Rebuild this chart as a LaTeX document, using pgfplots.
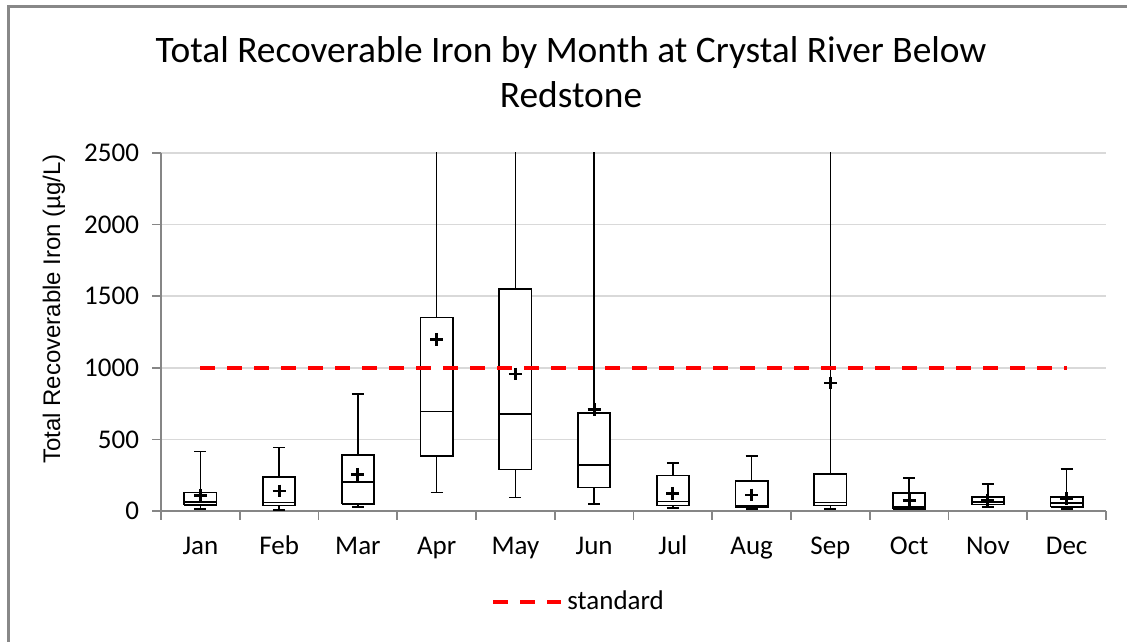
\documentclass[border=0pt]{standalone}
\usepackage{pgfplots}
\pgfplotsset{compat=1.18}
\usepackage{fontspec}
\setmainfont{Carlito}
\newfontfamily\arialfont{Liberation Sans}
\definecolor{axgray}{HTML}{868686}
\definecolor{gridgray}{HTML}{D9D9D9}
\definecolor{bordergray}{HTML}{888888}
\begin{document}
\begin{tikzpicture}
\path[use as bounding box] (0pt,0pt) rectangle (563.5pt,320.5pt);
\draw[bordergray, line width=1.5pt] (4pt,-2pt) -- (4pt,317pt) -- (566pt,317pt);
\begin{axis}[
  at={(80.5pt,65pt)}, anchor=south west,
  scale only axis, width=472.5pt, height=179pt,
  xmin=0.5, xmax=12.5, ymin=0, ymax=2500,
  axis lines*=left,
  axis line style={axgray, line width=0.8pt},
  xtick={1,...,12},
  xticklabels={Jan,Feb,Mar,Apr,May,Jun,Jul,Aug,Sep,Oct,Nov,Dec},
  major x tick style={draw=none},
  minor xtick={0.5,1.5,...,12.5},
  minor x tick style={axgray, line width=0.8pt},
  minor tick length=4.5pt,
  ytick={0,500,...,2500},
  major y tick style={axgray, line width=0.8pt},
  major tick length=4.5pt,
  tick align=outside,
  ymajorgrids, grid style={gridgray, line width=0.8pt},
  tick label style={font=\fontsize{13.5}{16}\selectfont, black},
  /pgf/number format/assume math mode=true,
  /pgf/number format/1000 sep={},
  xticklabel style={yshift=-3.5pt, text height=10pt, text depth=3pt},
  yticklabel style={xshift=-3pt},
  unbounded coords=jump,
  legend style={at={(0.443,-0.254)}, anchor=center, draw=none, fill=none,
    font=\fontsize{13.5}{16}\selectfont},
  legend image code/.code={\draw[#1] (0pt,0pt) -- (34pt,0pt);},
]
% whiskers (lower and upper, with caps)
\addplot[black, line width=0.8pt, forget plot] coordinates {
 (1,12) (1,40) (nan,nan) (0.925,12) (1.075,12) (nan,nan) (1,128) (1,415) (nan,nan) (0.925,415) (1.075,415) (nan,nan)
 (2,5) (2,37) (nan,nan) (1.925,5) (2.075,5) (nan,nan) (2,238) (2,443) (nan,nan) (1.925,443) (2.075,443) (nan,nan)
 (3,28) (3,47) (nan,nan) (2.925,28) (3.075,28) (nan,nan) (3,390) (3,819) (nan,nan) (2.925,819) (3.075,819) (nan,nan)
 (4,128) (4,383) (nan,nan) (3.925,128) (4.075,128) (nan,nan) (4,1351) (4,2600) (nan,nan)
 (5,93) (5,289) (nan,nan) (4.925,93) (5.075,93) (nan,nan) (5,1549) (5,2600) (nan,nan)
 (6,49) (6,163) (nan,nan) (5.925,49) (6.075,49) (nan,nan) (6,686) (6,2600) (nan,nan)
 (7,21) (7,37) (nan,nan) (6.925,21) (7.075,21) (nan,nan) (7,247) (7,336) (nan,nan) (6.925,336) (7.075,336) (nan,nan)
 (8,12) (8,28) (nan,nan) (7.925,12) (8.075,12) (nan,nan) (8,210) (8,383) (nan,nan) (7.925,383) (8.075,383) (nan,nan)
 (9,12) (9,37) (nan,nan) (8.925,12) (9.075,12) (nan,nan) (9,257) (9,2600) (nan,nan)
 (10,10) (10,16) (nan,nan) (9.925,10) (10.075,10) (nan,nan) (10,126) (10,231) (nan,nan) (9.925,231) (10.075,231) (nan,nan)
 (11,28) (11,44) (nan,nan) (10.925,28) (11.075,28) (nan,nan) (11,98) (11,189) (nan,nan) (10.925,189) (11.075,189) (nan,nan)
 (12,16) (12,28) (nan,nan) (11.925,16) (12.075,16) (nan,nan) (12,98) (12,294) (nan,nan) (11.925,294) (12.075,294)
};
% boxes: lower quartile to upper quartile
\addplot[black, line width=0.8pt, fill=white, forget plot] coordinates {(0.795,40) (1.205,40) (1.205,128) (0.795,128) (0.795,40)};
\addplot[black, line width=0.8pt, fill=white, forget plot] coordinates {(1.795,37) (2.205,37) (2.205,238) (1.795,238) (1.795,37)};
\addplot[black, line width=0.8pt, fill=white, forget plot] coordinates {(2.795,47) (3.205,47) (3.205,390) (2.795,390) (2.795,47)};
\addplot[black, line width=0.8pt, fill=white, forget plot] coordinates {(3.795,383) (4.205,383) (4.205,1351) (3.795,1351) (3.795,383)};
\addplot[black, line width=0.8pt, fill=white, forget plot] coordinates {(4.795,289) (5.205,289) (5.205,1549) (4.795,1549) (4.795,289)};
\addplot[black, line width=0.8pt, fill=white, forget plot] coordinates {(5.795,163) (6.205,163) (6.205,686) (5.795,686) (5.795,163)};
\addplot[black, line width=0.8pt, fill=white, forget plot] coordinates {(6.795,37) (7.205,37) (7.205,247) (6.795,247) (6.795,37)};
\addplot[black, line width=0.8pt, fill=white, forget plot] coordinates {(7.795,28) (8.205,28) (8.205,210) (7.795,210) (7.795,28)};
\addplot[black, line width=0.8pt, fill=white, forget plot] coordinates {(8.795,37) (9.205,37) (9.205,257) (8.795,257) (8.795,37)};
\addplot[black, line width=0.8pt, fill=white, forget plot] coordinates {(9.795,16) (10.205,16) (10.205,126) (9.795,126) (9.795,16)};
\addplot[black, line width=0.8pt, fill=white, forget plot] coordinates {(10.795,44) (11.205,44) (11.205,98) (10.795,98) (10.795,44)};
\addplot[black, line width=0.8pt, fill=white, forget plot] coordinates {(11.795,28) (12.205,28) (12.205,98) (11.795,98) (11.795,28)};
% medians
\addplot[black, line width=0.8pt, forget plot] coordinates {
 (0.795,61) (1.205,61) (nan,nan) (1.795,58) (2.205,58) (nan,nan) (2.795,201) (3.205,201) (nan,nan)
 (3.795,695) (4.205,695) (nan,nan) (4.795,677) (5.205,677) (nan,nan) (5.795,322) (6.205,322) (nan,nan)
 (6.795,65) (7.205,65) (nan,nan) (7.795,33) (8.205,33) (nan,nan) (8.795,58) (9.205,58) (nan,nan)
 (9.795,28) (10.205,28) (nan,nan) (10.795,62) (11.205,62) (nan,nan) (11.795,56) (12.205,56)
};
% means
\addplot[only marks, mark=+, mark size=3.2pt, mark options={line width=1.4pt, black}, forget plot] coordinates {
 (1,110) (2,140) (3,257) (4,1199) (5,957) (6,709) (7,124) (8,112) (9,894) (10,75) (11,72) (12,87)};
% standard
\addplot[red, line width=2pt, dash pattern=on 7.5pt off 6pt, mark=none] coordinates {(1,1000) (12,1000)};
\legend{standard}
\end{axis}
\node[anchor=base, font=\fontsize{18.7}{22}\selectfont] at (285.5pt,289pt) {Total Recoverable Iron by Month at Crystal River Below};
\node[anchor=base, font=\fontsize{18.7}{22}\selectfont] at (285.5pt,266.5pt) {Redstone};
\node[rotate=90, font=\arialfont\fontsize{12}{14}\selectfont] at (27pt,166pt) {Total Recoverable Iron (µg/L)};
\end{tikzpicture}
\end{document}
